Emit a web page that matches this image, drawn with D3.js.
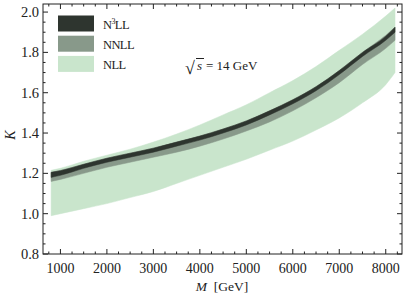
<!DOCTYPE html>
<html>
<head>
<meta charset="utf-8">
<script src="https://cdn.jsdelivr.net/npm/d3@7"></script>
<style>
  body { margin: 0; background: #fff; }
  svg text { font-family: "Liberation Serif", "DejaVu Serif", serif; fill: #222; }
</style>
</head>
<body>
<svg id="chart" width="405" height="295"></svg>
<script>
// invariant mass M [GeV]
var mass = [800, 1000, 1500, 2000, 2500, 3000, 3500, 4000, 4500, 5000, 5500, 6000, 6500, 7000, 7500, 8000, 8200];

// K factor bands
var nllLo  = [0.99, 1.0, 1.025, 1.05, 1.08, 1.11, 1.15, 1.19, 1.23, 1.27, 1.315, 1.36, 1.415, 1.475, 1.55, 1.64, 1.70];
var nllHi  = [1.215, 1.225, 1.26, 1.29, 1.32, 1.355, 1.395, 1.44, 1.49, 1.54, 1.60, 1.66, 1.73, 1.81, 1.89, 1.98, 2.02];
var nnllLo = [1.16, 1.17, 1.20, 1.23, 1.255, 1.28, 1.305, 1.335, 1.37, 1.41, 1.455, 1.51, 1.575, 1.65, 1.74, 1.82, 1.86];
var nnllHi = [1.205, 1.215, 1.245, 1.275, 1.30, 1.325, 1.355, 1.385, 1.42, 1.46, 1.51, 1.565, 1.63, 1.71, 1.80, 1.885, 1.925];
var n3llLo = [1.18, 1.19, 1.225, 1.255, 1.28, 1.305, 1.335, 1.365, 1.40, 1.44, 1.49, 1.545, 1.61, 1.69, 1.78, 1.86, 1.90];
var n3llHi = [1.205, 1.213, 1.245, 1.275, 1.30, 1.325, 1.355, 1.385, 1.42, 1.46, 1.51, 1.565, 1.63, 1.71, 1.80, 1.88, 1.925];

var xTicks = [1000, 2000, 3000, 4000, 5000, 6000, 7000, 8000];
var yTicks = [0.8, 1.0, 1.2, 1.4, 1.6, 1.8, 2.0];

var series = [
  { name: "NLL", lo: nllLo, hi: nllHi, color: "#c9e5cc" },
  { name: "NNLL", lo: nnllLo, hi: nnllHi, color: "#88998a" },
  { name: "N3LL", lo: n3llLo, hi: n3llHi, color: "#2e352f" }
];

var margin = { top: 4, right: 3, bottom: 41, left: 43 };
var width = 405, height = 295;

var svg = d3.select("#chart");

var x = d3.scaleLinear()
  .domain([625, 8350])
  .range([margin.left, width - margin.right]);

var y = d3.scaleLinear()
  .domain([0.8, 2.04])
  .range([height - margin.bottom, margin.top]);

// bands
series.forEach(function (s) {
  var area = d3.area()
    .x(function (d, i) { return x(mass[i]); })
    .y0(function (d, i) { return y(s.lo[i]); })
    .y1(function (d, i) { return y(s.hi[i]); })
    .curve(d3.curveMonotoneX);
  svg.append("path")
    .datum(mass)
    .attr("d", area)
    .attr("fill", s.color)
    .attr("stroke", s.color)
    .attr("stroke-width", 0.5);
});

// frame with inward ticks on all sides
var x0 = x.range()[0], x1 = x.range()[1];
var y0 = y.range()[0], y1 = y.range()[1];

var xMinor = d3.range(750, 8350, 250).filter(function (v) { return v % 1000 != 0; });
var yMinor = d3.range(0.85, 2.04, 0.05).filter(function (v) { return Math.abs(v * 5 - Math.round(v * 5)) > 0.01; });

var ticks = svg.append("g").attr("stroke", "#222").attr("stroke-width", 1);

function vtick(v, len) {
  ticks.append("line").attr("x1", x(v)).attr("x2", x(v)).attr("y1", y0).attr("y2", y0 - len);
  ticks.append("line").attr("x1", x(v)).attr("x2", x(v)).attr("y1", y1).attr("y2", y1 + len);
}
function htick(v, len) {
  ticks.append("line").attr("y1", y(v)).attr("y2", y(v)).attr("x1", x0).attr("x2", x0 + len);
  ticks.append("line").attr("y1", y(v)).attr("y2", y(v)).attr("x1", x1).attr("x2", x1 - len);
}
xTicks.forEach(function (v) { vtick(v, 5); });
xMinor.forEach(function (v) { vtick(v, 2.5); });
yTicks.forEach(function (v) { htick(v, 5); });
yMinor.forEach(function (v) { htick(v, 2.5); });

svg.append("rect")
  .attr("x", x0).attr("y", y1)
  .attr("width", x1 - x0).attr("height", y0 - y1)
  .attr("fill", "none").attr("stroke", "#222").attr("stroke-width", 1);

// tick labels
svg.append("g").selectAll("text")
  .data(xTicks).join("text")
  .attr("x", function (d) { return x(d); })
  .attr("y", 273)
  .attr("text-anchor", "middle")
  .attr("font-size", 14)
  .text(function (d) { return d; });

svg.append("g").selectAll("text")
  .data(yTicks).join("text")
  .attr("x", x0 - 4)
  .attr("y", function (d) { return y(d) + 5; })
  .attr("text-anchor", "end")
  .attr("font-size", 14.5)
  .text(function (d) { return d.toFixed(1); });

// axis titles
svg.append("text")
  .attr("transform", "translate(15," + (y(1.4) + 2) + ") rotate(-90)")
  .attr("text-anchor", "middle")
  .attr("font-size", 14)
  .attr("font-style", "italic")
  .text("K");

var xl = svg.append("text")
  .attr("x", 222).attr("y", 291)
  .attr("text-anchor", "middle")
  .attr("font-size", 13.5);
xl.append("tspan").attr("font-style", "italic").text("M");
xl.append("tspan").text("\u00A0\u00A0[GeV]");

// legend
var legend = svg.append("g");
var order = [series[2], series[1], series[0]];
order.forEach(function (s, i) {
  legend.append("rect")
    .attr("x", 58).attr("y", 15.5 + i * 20.2)
    .attr("width", 36).attr("height", 16)
    .attr("fill", s.color);
  var t = legend.append("text")
    .attr("x", 103).attr("y", 28.5 + i * 20.2)
    .attr("font-size", 12.5)
    .attr("letter-spacing", -0.6);
  if (s.name == "N3LL") {
    t.append("tspan").text("N");
    t.append("tspan").attr("font-size", 8).attr("dy", -5).text("3");
    t.append("tspan").attr("dy", 5).text("LL");
  } else {
    t.text(s.name);
  }
});

// sqrt(s) annotation
var ann = svg.append("g");
ann.append("text").attr("x", 185).attr("y", 74).attr("font-size", 18).text("\u221A");
ann.append("text").attr("x", 197).attr("y", 70).attr("font-size", 13).attr("font-style", "italic").text("s");
ann.append("line").attr("x1", 196).attr("x2", 204).attr("y1", 58.5).attr("y2", 58.5)
  .attr("stroke", "#222").attr("stroke-width", 1);
ann.append("text").attr("x", 206).attr("y", 70).attr("font-size", 13).text("=\u00A014\u00A0GeV");
</script>
</body>
</html>
